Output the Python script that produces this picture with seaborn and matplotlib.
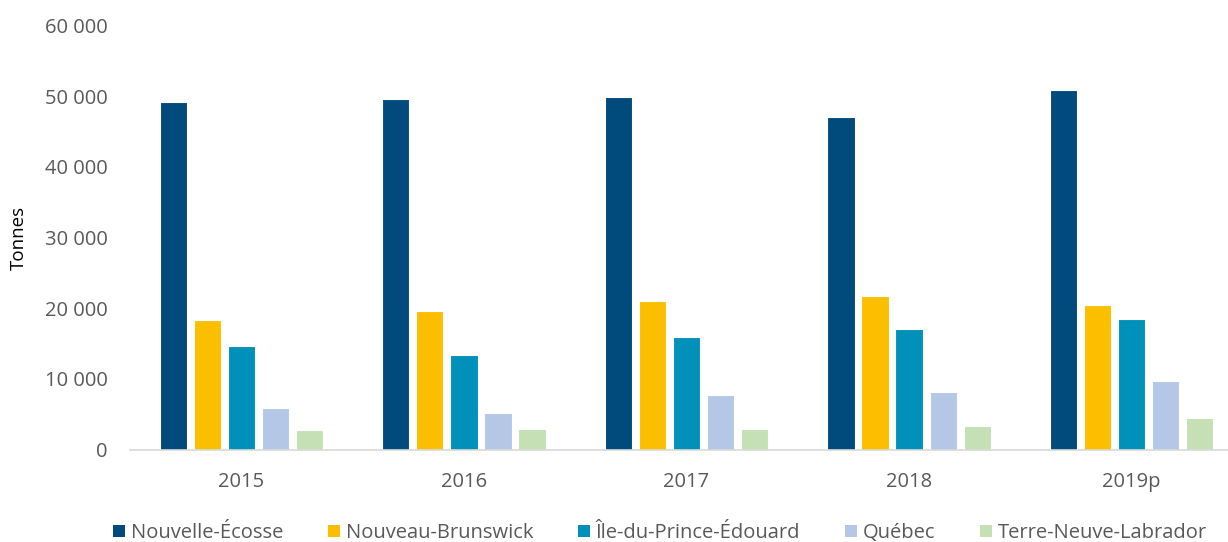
import matplotlib
matplotlib.use("Agg")
import matplotlib.pyplot as plt
import pandas as pd
import seaborn as sns
from matplotlib.patches import Patch
from matplotlib.ticker import FuncFormatter

years = ["2015", "2016", "2017", "2018", "2019p"]
provinces = [
    "Nouvelle-Écosse",
    "Nouveau-Brunswick",
    "Île-du-Prince-Édouard",
    "Québec",
    "Terre-Neuve-Labrador",
]
nouvelle_ecosse = [49190, 49530, 49860, 47030, 50850]
nouveau_brunswick = [18320, 19550, 21000, 21710, 20400]
ile_du_prince_edouard = [14600, 13370, 15910, 17040, 18500]
quebec = [5870, 5210, 7710, 8130, 9690]
terre_neuve_labrador = [2760, 2900, 2900, 3320, 4460]
colors = ["#004A7C", "#FBBF00", "#0091BA", "#B4C7E7", "#C5E0B4"]

series = [nouvelle_ecosse, nouveau_brunswick, ile_du_prince_edouard, quebec, terre_neuve_labrador]
df = pd.DataFrame(
    [(y, p, v) for p, vals in zip(provinces, series) for y, v in zip(years, vals)],
    columns=["annee", "province", "tonnes"],
)

sns.set_style("white")
plt.rcParams["font.family"] = ["Open Sans", "DejaVu Sans"]

fig = plt.figure(figsize=(12.28, 5.42), dpi=100)
ax = fig.add_axes([130 / 1228, 92.5 / 542, 1098 / 1228, 424 / 542])

sns.barplot(
    data=df,
    x="annee",
    y="tonnes",
    hue="province",
    order=years,
    hue_order=provinces,
    palette=colors,
    width=0.764,
    gap=0.2,
    edgecolor="white",
    linewidth=0.8,
    saturation=1,
    legend=False,
    ax=ax,
)

ax.set_ylim(0, 60000)
ax.set_xlim(-0.5, 4.5 - 15 / 222.6)
ax.set_yticks(range(0, 60001, 10000))
ax.yaxis.set_major_formatter(FuncFormatter(lambda v, _: f"{int(v):,}".replace(",", " ")))
ax.tick_params(axis="both", length=0, labelsize=14.5, labelcolor="#595959")
ax.tick_params(axis="y", pad=16)
ax.tick_params(axis="x", pad=16)
ax.set_xlabel("")
ax.set_ylabel("Tonnes", fontsize=13.5, color="black")
ax.yaxis.set_label_coords(-102 / 1098, 0.5)

for side in ["top", "right", "left"]:
    ax.spines[side].set_visible(False)
ax.spines["bottom"].set_color("#D9D9D9")
ax.spines["bottom"].set_linewidth(1.2)

handles = [Patch(facecolor=c, edgecolor="none") for c in colors]
fig.legend(
    handles,
    provinces,
    loc="center",
    bbox_to_anchor=(660 / 1228, 1 - 533 / 542),
    ncol=5,
    frameon=False,
    fontsize=14.5,
    handlelength=0.6,
    handleheight=0.6,
    handletextpad=0.3,
    columnspacing=2.2,
    labelcolor="#595959",
)

fig.savefig("out.png", dpi=100)
